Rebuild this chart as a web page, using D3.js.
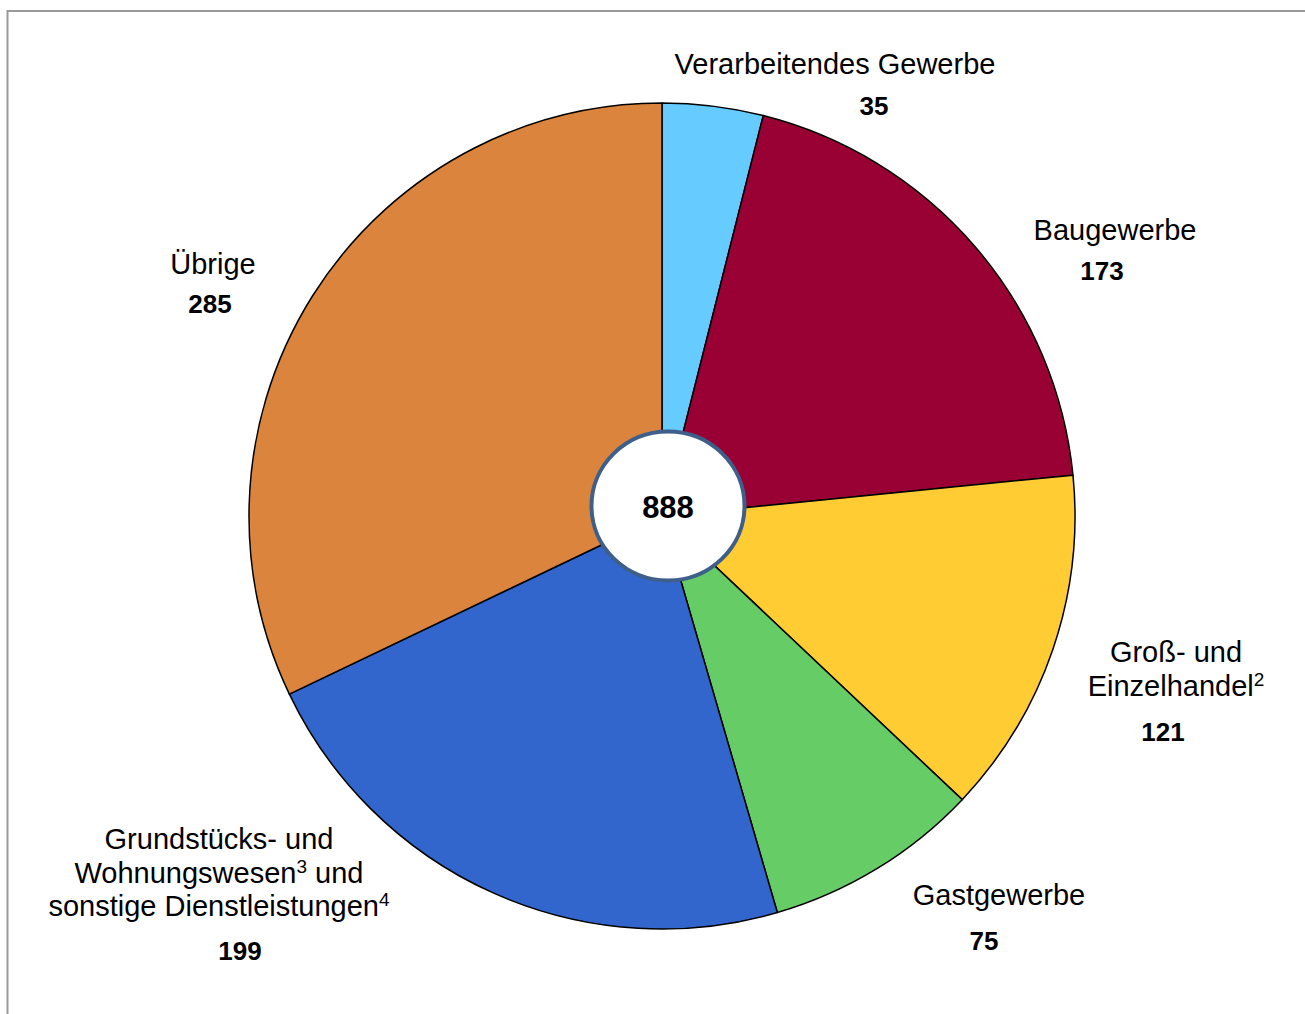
<!DOCTYPE html>
<html><head><meta charset="utf-8">
<script src="https://cdn.jsdelivr.net/npm/d3@7"></script>
<style>html,body{margin:0;padding:0;background:#fff;overflow:hidden}</style>
</head><body>
<svg id="c" width="1305" height="1014"></svg>
<script>
const categories = ["Verarbeitendes Gewerbe","Baugewerbe","Groß- und Einzelhandel","Gastgewerbe","Grundstücks- und Wohnungswesen und sonstige Dienstleistungen","Übrige"];
const values = [35,173,121,75,199,285];
const total = 888;
const colors = ["#66CCFF","#990033","#FFCC33","#66CC66","#3366CC","#DB843D"];
// label lines: each line is array of [text, isSuperscript]
const labelLines = [
  [[["Verarbeitendes Gewerbe",0]]],
  [[["Baugewerbe",0]]],
  [[["Groß- und",0]],[["Einzelhandel",0],["2",1]]],
  [[["Gastgewerbe",0]]],
  [[["Grundstücks- und",0]],[["Wohnungswesen",0],["3",1],[" und",0]],[["sonstige Dienstleistungen",0],["4",1]]],
  [[["Übrige",0]]]
];
// layout: label anchor (center x, first baseline y) and value anchor
const labelLayout = [
  {x:835,y:74,vx:874,vy:115},
  {x:1115,y:240,vx:1102,vy:280},
  {x:1176,y:662,vx:1163,vy:741},
  {x:999,y:905,vx:984,vy:950},
  {x:219,y:849,vx:240,vy:960},
  {x:213,y:274,vx:210,vy:313}
];

const svg = d3.select("#c");
svg.append("rect").attr("x",7.5).attr("y",11).attr("width",1400).attr("height",1100)
  .attr("fill","none").attr("stroke","#999").attr("stroke-width",2);

const cx=662, cy=516, R=413;
const pie = d3.pie().sort(null).value(d=>d)(values);
const arc = d3.arc().innerRadius(0).outerRadius(R);
const g = svg.append("g").attr("transform",`translate(${cx},${cy})`);
g.selectAll("path").data(pie).join("path")
  .attr("d",arc).attr("fill",(d,i)=>colors[i])
  .attr("stroke","#000").attr("stroke-width",1.5).attr("stroke-linejoin","round");

svg.append("ellipse").attr("cx",668).attr("cy",506).attr("rx",76.5).attr("ry",74.5)
  .attr("fill","#fff").attr("stroke","#3D5F8A").attr("stroke-width",4);
svg.append("text").attr("x",668).attr("y",518).attr("text-anchor","middle")
  .attr("font-family","Liberation Sans, Arial, sans-serif").attr("font-weight","bold")
  .attr("font-size",31).text(total);

const font="Liberation Sans, Arial, sans-serif";
labelLines.forEach((lines,i)=>{
  const L=labelLayout[i];
  const t=svg.append("text").attr("text-anchor","middle").attr("font-family",font)
    .attr("font-size",29).attr("fill","#000");
  lines.forEach((parts,j)=>{
    const line=t.append("tspan").attr("x",L.x).attr("y",L.y+j*33.5);
    let raised=false;
    parts.forEach(p=>{
      const sp=line.append("tspan").text(p[0]);
      if(p[1]){ sp.attr("font-size",19).attr("dy",-10); raised=true; }
      else if(raised){ sp.attr("dy",10); raised=false; }
    });
  });
  svg.append("text").attr("x",L.vx).attr("y",L.vy).attr("text-anchor","middle")
    .attr("font-family",font).attr("font-weight","bold").attr("font-size",26).text(values[i]);
});
</script>
</body></html>
